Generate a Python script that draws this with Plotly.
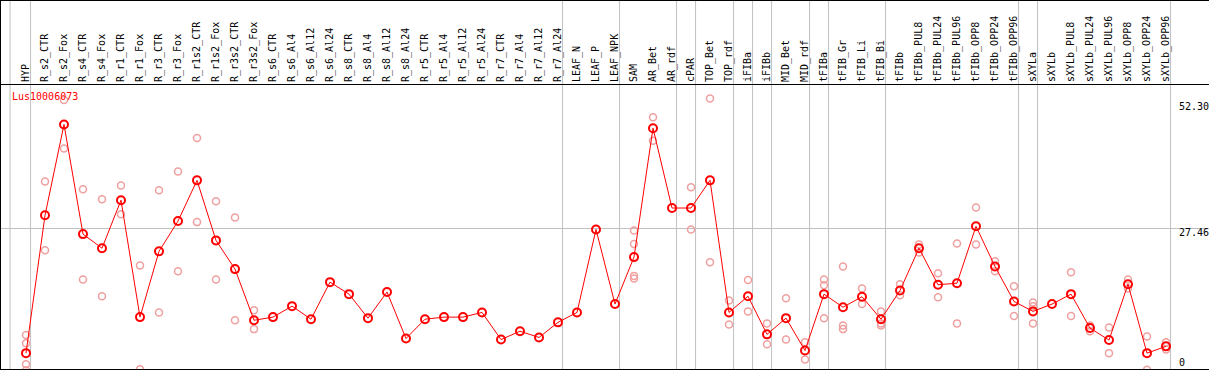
import plotly.graph_objects as go

categories = ["HYP", "R_s2_CTR", "R_s2_Fox", "R_s4_CTR", "R_s4_Fox", "R_r1_CTR", "R_r1_Fox",
              "R_r3_CTR", "R_r3_Fox", "R_r1s2_CTR", "R_r1s2_Fox", "R_r3s2_CTR", "R_r3s2_Fox",
              "R_s6_CTR", "R_s6_Al4", "R_s6_Al12", "R_s6_Al24", "R_s8_CTR", "R_s8_Al4", "R_s8_Al12",
              "R_s8_Al24", "R_r5_CTR", "R_r5_Al4", "R_r5_Al12", "R_r5_Al24", "R_r7_CTR", "R_r7_Al4",
              "R_r7_Al12", "R_r7_Al24", "LEAF_N", "LEAF_P", "LEAF_NPK", "SAM", "AR_Bet", "AR_rdf",
              "cPAR", "TOP_Bet", "TOP_rdf", "iFIBa", "iFIBb", "MID_Bet", "MID_rdf", "tFIBa",
              "tFIB_Gr", "tFIB_Li", "tFIB_Bi", "tFIBb", "tFIBb_PUL8", "tFIBb_PUL24", "tFIBb_PUL96",
              "tFIBb_OPP8", "tFIBb_OPP24", "tFIBb_OPP96", "sXYLa", "sXYLb", "sXYLb_PUL8",
              "sXYLb_PUL24", "sXYLb_PUL96", "sXYLb_OPP8", "sXYLb_OPP24", "sXYLb_OPP96"]

mean_values = [3.5, 29.9, 47.3, 26.3, 23.6, 32.8, 10.4, 23.0, 28.8, 36.6, 25.1, 19.6, 9.8,
               10.4, 12.5, 10.0, 17.1, 14.8, 10.2, 15.2, 6.3, 10.0, 10.4, 10.4, 11.3, 6.1, 7.7,
               6.5, 9.4, 11.3, 27.2, 12.9, 21.9, 46.6, 31.3, 31.3, 36.6, 11.3, 14.4, 7.1, 10.2,
               4.0, 14.8, 12.3, 14.3, 10.0, 15.5, 23.6, 16.6, 16.9, 27.8, 20.1, 13.4, 11.5, 12.9,
               14.8, 8.3, 6.0, 16.7, 3.5, 4.8]

replicates = {
    "HYP": [6.97, 5.38, 1.36, 0.2],
    "R_s2_CTR": [36.4, 23.2], "R_s2_Fox": [52.0, 42.7], "R_s4_CTR": [34.9, 17.6],
    "R_s4_Fox": [33.0, 14.4], "R_r1_CTR": [35.6, 30.1], "R_r1_Fox": [20.3, 0.4],
    "R_r3_CTR": [34.7, 11.3], "R_r3_Fox": [38.3, 19.2], "R_r1s2_CTR": [44.7, 28.6],
    "R_r1s2_Fox": [32.6, 17.6], "R_r3s2_CTR": [29.5, 9.8], "R_r3s2_Fox": [11.7, 8.1],
    "SAM": [27.0, 24.4, 18.3, 17.8], "AR_Bet": [48.7, 44.2], "cPAR": [35.3, 27.2],
    "TOP_Bet": [52.3, 20.9], "TOP_rdf": [13.6, 9.0], "iFIBa": [17.5, 11.5], "iFIBb": [9.2, 5.2],
    "MID_Bet": [14.0, 6.1], "MID_rdf": [5.6, 2.3], "tFIBa": [17.6, 16.5, 10.2],
    "tFIB_Gr": [20.1, 8.8, 8.1], "tFIB_Li": [15.9, 12.9], "tFIB_Bi": [11.5, 9.2, 8.8],
    "tFIBb": [16.7, 14.6], "tFIBb_PUL8": [24.3, 22.8], "tFIBb_PUL24": [18.8, 14.2],
    "tFIBb_PUL96": [24.5, 9.2], "tFIBb_OPP8": [31.4, 24.3], "tFIBb_OPP24": [21.1, 19.2],
    "tFIBb_OPP96": [16.3, 10.6], "sXYLa": [13.2, 12.5, 9.2], "sXYLb_PUL8": [19.0, 10.6],
    "sXYLb_PUL24": [8.8, 7.7], "sXYLb_PUL96": [8.4, 3.5], "sXYLb_OPP8": [17.6, 15.9],
    "sXYLb_OPP24": [6.7, 0.3], "sXYLb_OPP96": [5.6, 4.2],
}

group_starts = ["HYP", "R_s2_CTR", "LEAF_N", "SAM", "cPAR", "TOP_Bet", "iFIBa", "iFIBb",
                "MID_Bet", "tFIBa", "tFIB_Gr", "tFIBb", "sXYLa", "sXYLb"]

y_labels = [52.30, 27.46, 0]
gene_name = "Lus10006073"

FONT = "DejaVu Sans Mono"
idx = {c: i for i, c in enumerate(categories)}
xs = list(range(len(categories)))

rx, ry = [], []
for c, vals in replicates.items():
    for v in vals:
        rx.append(idx[c])
        ry.append(v)

fig = go.Figure()
fig.add_trace(go.Scatter(
    x=rx, y=ry, mode="markers",
    marker=dict(symbol="circle-open", size=7, color="#f0a0a0",
                line=dict(width=1.5, color="#f0a0a0")),
    hoverinfo="skip", showlegend=False))
fig.add_trace(go.Scatter(
    x=xs, y=mean_values, mode="lines+markers",
    line=dict(color="#ff0000", width=1),
    marker=dict(symbol="circle-open", size=8, color="#ff0000",
                line=dict(width=2, color="#ff0000")),
    showlegend=False))

W, H = 1209, 370
ml, mr, mt, mb = 1, 0, 85, 1
plot_w = W - ml - mr
plot_h = H - mt - mb
px_per_cat = 19.0
x0 = (ml - 26) / px_per_cat
x1 = x0 + plot_w / px_per_cat

ymin, ymax = 0.46, 54.87

shapes = []
sep_x = [idx[g] - 0.76 for g in group_starts] + [len(categories) - 1 + 0.24]
sep_x[0] = -0.84
top_paper = 1 + (mt - 0.5) / plot_h
for sx in sep_x:
    shapes.append(dict(type="line", xref="x", yref="paper", x0=sx, x1=sx, y0=0, y1=top_paper,
                       line=dict(color="#c0c0c0", width=1), layer="below"))
# outer frame: top and left edge of header
shapes.append(dict(type="line", xref="paper", yref="paper", x0=-ml / plot_w, x1=1.0,
                   y0=top_paper, y1=top_paper, line=dict(color="black", width=1)))
shapes.append(dict(type="line", xref="paper", yref="paper", x0=-0.5 / plot_w, x1=-0.5 / plot_w,
                   y0=1, y1=top_paper, line=dict(color="black", width=1)))

annotations = [dict(text=gene_name, xref="paper", yref="paper", x=(10 - ml) / plot_w,
                    y=(H - mb - 96.7) / plot_h, xanchor="left", yanchor="middle",
                    showarrow=False, font=dict(family=FONT, size=10, color="#ff0000"))]
shifts = {52.30: -8, 27.46: -4}
label_x = (1177 - ml) / plot_w
for v in y_labels:
    txt = f"{v:.2f}" if v else "0"
    if v >= ymin:
        annotations.append(dict(text=txt, xref="paper", yref="y", x=label_x, y=v,
                                xanchor="left", yanchor="middle", yshift=shifts.get(v, 0),
                                showarrow=False, font=dict(family=FONT, size=10, color="black")))
    else:
        annotations.append(dict(text=txt, xref="paper", yref="paper", x=label_x,
                                y=0, xanchor="left", yanchor="bottom", yshift=-1,
                                showarrow=False, font=dict(family=FONT, size=10, color="black")))

fig.update_layout(
    width=W, height=H, margin=dict(l=ml, r=mr, t=mt, b=mb, pad=0),
    paper_bgcolor="white", plot_bgcolor="white",
    shapes=shapes, annotations=annotations,
    xaxis=dict(range=[x0, x1], side="top", tickmode="array", tickvals=xs, ticktext=categories,
               tickangle=-90, tickfont=dict(family=FONT, size=10, color="black"),
               showline=True, linecolor="black", linewidth=1, mirror=True,
               showgrid=False, zeroline=False, ticks="", automargin=False, fixedrange=True),
    yaxis=dict(range=[ymin, ymax], tickmode="array", tickvals=[27.46], showticklabels=False,
               showgrid=True, gridcolor="#c0c0c0", gridwidth=1, showline=True,
               linecolor="black", linewidth=1, zeroline=False, ticks="", automargin=False,
               fixedrange=True),
)

fig.write_html("out.html", config={"displayModeBar": False},
               post_script="document.body.style.margin='0';document.body.style.overflow='hidden';")
